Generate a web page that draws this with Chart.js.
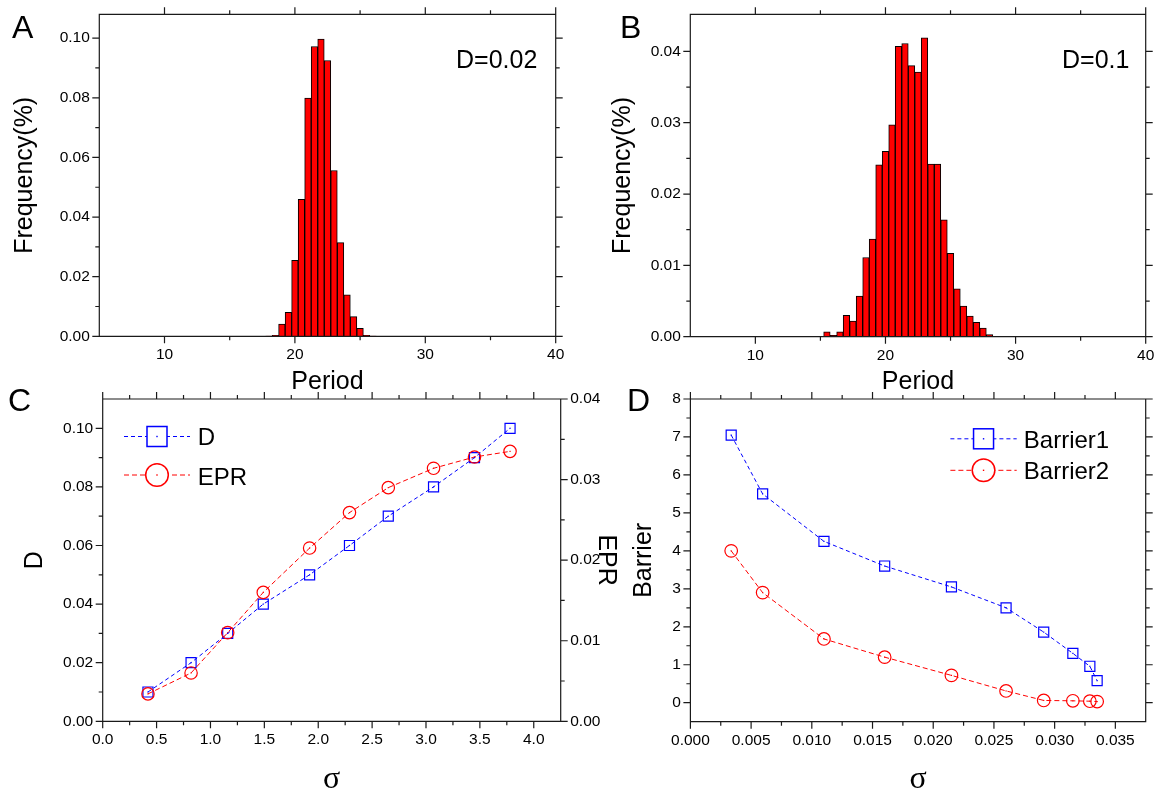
<!DOCTYPE html>
<html>
<head>
<meta charset="utf-8">
<script src="https://cdn.jsdelivr.net/npm/chart.js@4.4.1/dist/chart.umd.min.js"></script>
<style>
html, body { margin: 0; padding: 0; background: #fff; width: 1156px; height: 791px; overflow: hidden; position: relative; }
canvas { position: absolute; }
.txt { position: absolute; white-space: nowrap; line-height: 1; color: #000; font-family: "Liberation Sans", Arial, sans-serif; }
#legend { position: absolute; left: 0; top: 0; }
</style>
</head>
<body>
<canvas id="cA"></canvas>
<canvas id="cB"></canvas>
<canvas id="cC"></canvas>
<canvas id="cD"></canvas>
<svg id="legend" width="1156" height="791"></svg>
<script>
// --- data ---
const A_PERIOD = [18, 18.5, 19, 19.5, 20, 20.5, 21, 21.5, 22, 22.5, 23, 23.5, 24, 24.5, 25, 25.5, 26];
const A_FREQ = [0.0001, 0.0003, 0.0041, 0.0080, 0.0255, 0.0459, 0.0799, 0.0972, 0.0997, 0.0925, 0.0556, 0.0314, 0.0139, 0.0066, 0.0027, 0.0003, 0.0001];

const B_PERIOD = [15.5, 16, 16.5, 17, 17.5, 18, 18.5, 19, 19.5, 20, 20.5, 21, 21.5, 22, 22.5, 23, 23.5, 24, 24.5, 25, 25.5, 26, 26.5, 27, 27.5, 28];
const B_FREQ = [0.0007, 0.0002, 0.0007, 0.0030, 0.0022, 0.0057, 0.0111, 0.0137, 0.0241, 0.0260, 0.0297, 0.0407, 0.0411, 0.0380, 0.0371, 0.0419, 0.0242, 0.0242, 0.0164, 0.0117, 0.0067, 0.0043, 0.0029, 0.0020, 0.0012, 0.0003];

const C_SIGMA = [0.42, 0.82, 1.16, 1.49, 1.92, 2.29, 2.65, 3.07, 3.45, 3.78];
const C_D = [0.01, 0.02, 0.03, 0.04, 0.05, 0.06, 0.07, 0.08, 0.09, 0.10];
const C_EPR = [0.0034, 0.0060, 0.0110, 0.0160, 0.0215, 0.0259, 0.0290, 0.0314, 0.0328, 0.0335];

const D_SIGMA = [0.00336, 0.00595, 0.0110, 0.0160, 0.0215, 0.0260, 0.0291, 0.0315, 0.0329, 0.0335];
const D_BARRIER1 = [7.05, 5.50, 4.25, 3.60, 3.05, 2.50, 1.86, 1.30, 0.96, 0.58];
const D_BARRIER2 = [4.00, 2.90, 1.68, 1.20, 0.72, 0.31, 0.06, 0.05, 0.04, 0.03];

// tick values
const HIST_X_MAJOR = [10, 20, 30, 40];
const HIST_X_MINOR = [15, 25, 35];
const A_Y_MAJOR = [0, 0.02, 0.04, 0.06, 0.08, 0.10];
const A_Y_MINOR = [0.01, 0.03, 0.05, 0.07, 0.09];
const B_Y_MAJOR = [0, 0.01, 0.02, 0.03, 0.04];
const B_Y_MINOR = [0.005, 0.015, 0.025, 0.035];
const C_X_MAJOR = [0, 0.5, 1, 1.5, 2, 2.5, 3, 3.5, 4];
const C_X_MINOR = [0.25, 0.75, 1.25, 1.75, 2.25, 2.75, 3.25, 3.75];
const C_Y_MAJOR = [0, 0.02, 0.04, 0.06, 0.08, 0.10];
const C_Y_MINOR = [0.01, 0.03, 0.05, 0.07, 0.09];
const C_Y2_MAJOR = [0, 0.01, 0.02, 0.03, 0.04];
const C_Y2_MINOR = [0.005, 0.015, 0.025, 0.035];
const D_X_MAJOR = [0, 0.005, 0.01, 0.015, 0.02, 0.025, 0.03, 0.035];
const D_X_MINOR = [0.0025, 0.0075, 0.0125, 0.0175, 0.0225, 0.0275, 0.0325];
const D_Y_MAJOR = [0, 1, 2, 3, 4, 5, 6, 7, 8];
const D_Y_MINOR = [0.5, 1.5, 2.5, 3.5, 4.5, 5.5, 6.5, 7.5];

// --- styling ---
const SANS = '"Liberation Sans", Arial, sans-serif';
const SERIF = '"Liberation Serif", "Times New Roman", serif';
const BLUE = '#0000ff';
const RED = '#ff0000';
const FRAME = '#1a1a1a';
const TICK_FONT = { family: SANS, size: 15.5 };
const MAJOR_LEN = 7, MINOR_LEN = 4;
const TITLE_LH = 1.2;

Chart.defaults.color = '#000';
Chart.defaults.font.family = SANS;

// box frame with major/minor ticks on all four sides
const frameTicks = {
  id: 'frameTicks',
  afterDraw(chart, args, o) {
    const { ctx, chartArea: a, scales } = chart;
    const xs = scales.x, yl = scales[o.left.scale], yr = scales[o.right.scale];
    ctx.save();
    ctx.strokeStyle = FRAME;
    ctx.lineWidth = 1.2;
    ctx.beginPath();
    const seg = (x1, y1, x2, y2) => { ctx.moveTo(x1, y1); ctx.lineTo(x2, y2); };
    [[o.x.major, MAJOR_LEN], [o.x.minor, MINOR_LEN]].forEach(([list, len]) => list.forEach(v => {
      const p = xs.getPixelForValue(v);
      seg(p, a.bottom, p, a.bottom + len);
      seg(p, a.top, p, a.top - len);
    }));
    [[o.left.major, MAJOR_LEN], [o.left.minor, MINOR_LEN]].forEach(([list, len]) => list.forEach(v => {
      const p = yl.getPixelForValue(v);
      seg(a.left, p, a.left - len, p);
    }));
    [[o.right.major, MAJOR_LEN], [o.right.minor, MINOR_LEN]].forEach(([list, len]) => list.forEach(v => {
      const p = yr.getPixelForValue(v);
      seg(a.right, p, a.right + len, p);
    }));
    ctx.rect(a.left, a.top, a.right - a.left, a.bottom - a.top);
    ctx.stroke();
    ctx.restore();
  }
};

// small dot in the middle of every marker (Origin style)
const centerDots = {
  id: 'centerDots',
  afterDatasetsDraw(chart) {
    const ctx = chart.ctx;
    chart.data.datasets.forEach((ds, i) => {
      ctx.fillStyle = ds.borderColor;
      chart.getDatasetMeta(i).data.forEach(p => ctx.fillRect(p.x - 0.6, p.y - 0.6, 1.2, 1.2));
    });
  }
};

function placeCanvas(id, box) {
  const c = document.getElementById(id);
  c.width = box.w; c.height = box.h;
  c.style.left = box.x + 'px'; c.style.top = box.y + 'px';
  return c;
}

// all positions in page pixels -> padding + fixed scale sizes
function makeLayout(box, area, yTitle, xTitle, rTitle) {
  const yLeft = yTitle.x - yTitle.size * TITLE_LH / 2;
  const xBottom = xTitle.y + xTitle.size * TITLE_LH / 2;
  let right = box.x + box.w - area.r, rWidth = 0;
  if (rTitle) {
    const rr = rTitle.x + rTitle.size * TITLE_LH / 2;
    rWidth = rr - area.r;
    right = box.x + box.w - rr;
  }
  return {
    padding: { left: yLeft - box.x, top: area.t - box.y, right: right, bottom: box.y + box.h - xBottom },
    yWidth: area.l - yLeft, xHeight: xBottom - area.b, rWidth: rWidth
  };
}

function axis(text, titleFont, major, fmt, fit) {
  return {
    border: { display: false },
    grid: { display: false, drawTicks: true, tickLength: MAJOR_LEN },
    ticks: { font: TICK_FONT, color: '#000', padding: 2.5, maxRotation: 0, autoSkip: false, callback: fmt },
    afterBuildTicks: s => { s.ticks = major.map(v => ({ value: v })); },
    afterFit: fit,
    title: { display: true, text: text, font: titleFont, color: '#000', padding: 0 }
  };
}

const TITLE_FONT = { family: SANS, size: 25 };
const SIGMA_FONT = { family: SERIF, size: 32 };

function histogram(id, box, area, yTitleX, periods, freqs, yMax, yMajor, yMinor) {
  const L = makeLayout(box, area, { x: yTitleX, size: 25 }, { y: 382.5, size: 25 });
  return new Chart(placeCanvas(id, box), {
    type: 'bar',
    data: {
      datasets: [{
        data: periods.map((p, i) => ({ x: p, y: freqs[i] })),
        backgroundColor: RED, borderColor: '#000', borderWidth: 1,
        barPercentage: 1, categoryPercentage: 1
      }]
    },
    options: {
      responsive: false, animation: false, events: [],
      layout: { padding: L.padding },
      plugins: {
        legend: { display: false }, tooltip: { enabled: false },
        frameTicks: {
          x: { major: HIST_X_MAJOR, minor: HIST_X_MINOR },
          left: { scale: 'y', major: yMajor, minor: yMinor },
          right: { scale: 'y', major: yMajor, minor: yMinor }
        }
      },
      scales: {
        x: Object.assign({ type: 'linear', min: 5, max: 40, offset: false },
          axis('Period', TITLE_FONT, HIST_X_MAJOR, v => String(v), s => { s.height = L.xHeight; })),
        y: Object.assign({ min: 0, max: yMax },
          axis('Frequency(%)', TITLE_FONT, yMajor, v => v.toFixed(2), s => { s.width = L.yWidth; }))
      }
    },
    plugins: [frameTicks]
  });
}

function series(label, xs, ys, color, style, radius, dash, axisId) {
  return {
    label: label, yAxisID: axisId,
    data: xs.map((x, i) => ({ x: x, y: ys[i] })),
    borderColor: color, borderWidth: 1, borderDash: dash, tension: 0,
    pointStyle: style, pointRadius: radius, pointBorderWidth: 1.2,
    pointBorderColor: color, pointBackgroundColor: 'rgba(255,255,255,0)'
  };
}

histogram('cA', { x: 0, y: 0, w: 600, h: 400 }, { l: 99.3, t: 14.3, r: 555.7, b: 336.3 }, 25.5,
  A_PERIOD, A_FREQ, 0.108, A_Y_MAJOR, A_Y_MINOR);
histogram('cB', { x: 590, y: 0, w: 600, h: 400 }, { l: 690.3, t: 14.3, r: 1145.7, b: 336.7 }, 623,
  B_PERIOD, B_FREQ, 0.0452, B_Y_MAJOR, B_Y_MINOR);

// panel C
(function () {
  const box = { x: 0, y: 385, w: 625, h: 420 };
  const L = makeLayout(box, { l: 102.7, t: 399, r: 560.7, b: 721.3 }, { x: 35, size: 25 }, { y: 780, size: 32 }, { x: 606, size: 25 });
  new Chart(placeCanvas('cC', box), {
    type: 'line',
    data: {
      datasets: [
        series('EPR', C_SIGMA, C_EPR, RED, 'circle', 6.2, [5, 3], 'y2'),
        series('D', C_SIGMA, C_D, BLUE, 'rect', 7.1, [4, 3], 'y')
      ]
    },
    options: {
      responsive: false, animation: false, events: [],
      layout: { padding: L.padding },
      plugins: {
        legend: { display: false }, tooltip: { enabled: false },
        frameTicks: {
          x: { major: C_X_MAJOR, minor: C_X_MINOR },
          left: { scale: 'y', major: C_Y_MAJOR, minor: C_Y_MINOR },
          right: { scale: 'y2', major: C_Y2_MAJOR, minor: C_Y2_MINOR }
        }
      },
      scales: {
        x: Object.assign({ type: 'linear', min: 0, max: 4.25 },
          axis('σ', SIGMA_FONT, C_X_MAJOR, v => v.toFixed(1), s => { s.height = L.xHeight; })),
        y: Object.assign({ position: 'left', min: 0, max: 0.11 },
          axis('D', TITLE_FONT, C_Y_MAJOR, v => v.toFixed(2), s => { s.width = L.yWidth; })),
        y2: Object.assign({ position: 'right', min: 0, max: 0.04 },
          axis('EPR', TITLE_FONT, C_Y2_MAJOR, v => v.toFixed(2), s => { s.width = L.rWidth; }))
      }
    },
    plugins: [frameTicks, centerDots]
  });
})();

// panel D
(function () {
  const box = { x: 620, y: 385, w: 560, h: 420 };
  const L = makeLayout(box, { l: 690.4, t: 399, r: 1145.7, b: 721.7 }, { x: 644.4, size: 25 }, { y: 780, size: 32 });
  new Chart(placeCanvas('cD', box), {
    type: 'line',
    data: {
      datasets: [
        series('Barrier2', D_SIGMA, D_BARRIER2, RED, 'circle', 6.3, [5, 3], 'y'),
        series('Barrier1', D_SIGMA, D_BARRIER1, BLUE, 'rect', 7.1, [4, 3], 'y')
      ]
    },
    options: {
      responsive: false, animation: false, events: [],
      layout: { padding: L.padding },
      plugins: {
        legend: { display: false }, tooltip: { enabled: false },
        frameTicks: {
          x: { major: D_X_MAJOR, minor: D_X_MINOR },
          left: { scale: 'y', major: D_Y_MAJOR, minor: D_Y_MINOR },
          right: { scale: 'y', major: D_Y_MAJOR, minor: D_Y_MINOR }
        }
      },
      scales: {
        x: Object.assign({ type: 'linear', min: 0, max: 0.0375 },
          axis('σ', SIGMA_FONT, D_X_MAJOR, v => v.toFixed(3), s => { s.height = L.xHeight; })),
        y: Object.assign({ min: -0.5, max: 8 },
          axis('Barrier', TITLE_FONT, D_Y_MAJOR, v => String(v), s => { s.width = L.yWidth; }))
      }
    },
    plugins: [frameTicks, centerDots]
  });
})();

// --- text overlays (panel letters, annotations, legend labels) ---
function addText(txt, left, baseline, size, family) {
  const d = document.createElement('div');
  d.className = 'txt';
  d.textContent = txt;
  d.style.left = left + 'px';
  d.style.top = (baseline - 0.8465 * size) + 'px';
  d.style.fontSize = size + 'px';
  if (family) d.style.fontFamily = family;
  document.body.appendChild(d);
}
addText('A', 12, 38, 32);
addText('B', 620, 38, 32);
addText('C', 8, 411, 32);
addText('D', 627, 411, 32);
addText('D=0.02', 456, 68, 25);
addText('D=0.1', 1062, 68, 25);

// legend samples: dashed line + marker + label
const svg = document.getElementById('legend');
function svgEl(tag, attrs) {
  const e = document.createElementNS('http://www.w3.org/2000/svg', tag);
  for (const k in attrs) e.setAttribute(k, attrs[k]);
  svg.appendChild(e);
  return e;
}
function legendRow(x1, x2, y, color, dash, shape, label, textX, baseline) {
  svgEl('line', { x1: x1, y1: y, x2: x2, y2: y, stroke: color, 'stroke-width': 1, 'stroke-dasharray': dash });
  const cx = (x1 + x2) / 2;
  if (shape === 'rect') svgEl('rect', { x: cx - 10, y: y - 10, width: 20, height: 20, fill: '#fff', stroke: color, 'stroke-width': 1.5 });
  else svgEl('circle', { cx: cx, cy: y, r: 11.3, fill: '#fff', stroke: color, 'stroke-width': 1.5 });
  svgEl('rect', { x: cx - 0.7, y: y - 0.7, width: 1.4, height: 1.4, fill: color });
  addText(label, textX, baseline, 24);
}
legendRow(124, 190, 436.5, BLUE, '4 3', 'rect', 'D', 197.7, 445);
legendRow(124, 190, 475, RED, '5 3', 'circle', 'EPR', 197.7, 485);
legendRow(950.4, 1016.7, 438.8, BLUE, '4 3', 'rect', 'Barrier1', 1023.8, 448.3);
legendRow(950.4, 1016.7, 470.3, RED, '5 3', 'circle', 'Barrier2', 1023.8, 479.3);
</script>
</body>
</html>
